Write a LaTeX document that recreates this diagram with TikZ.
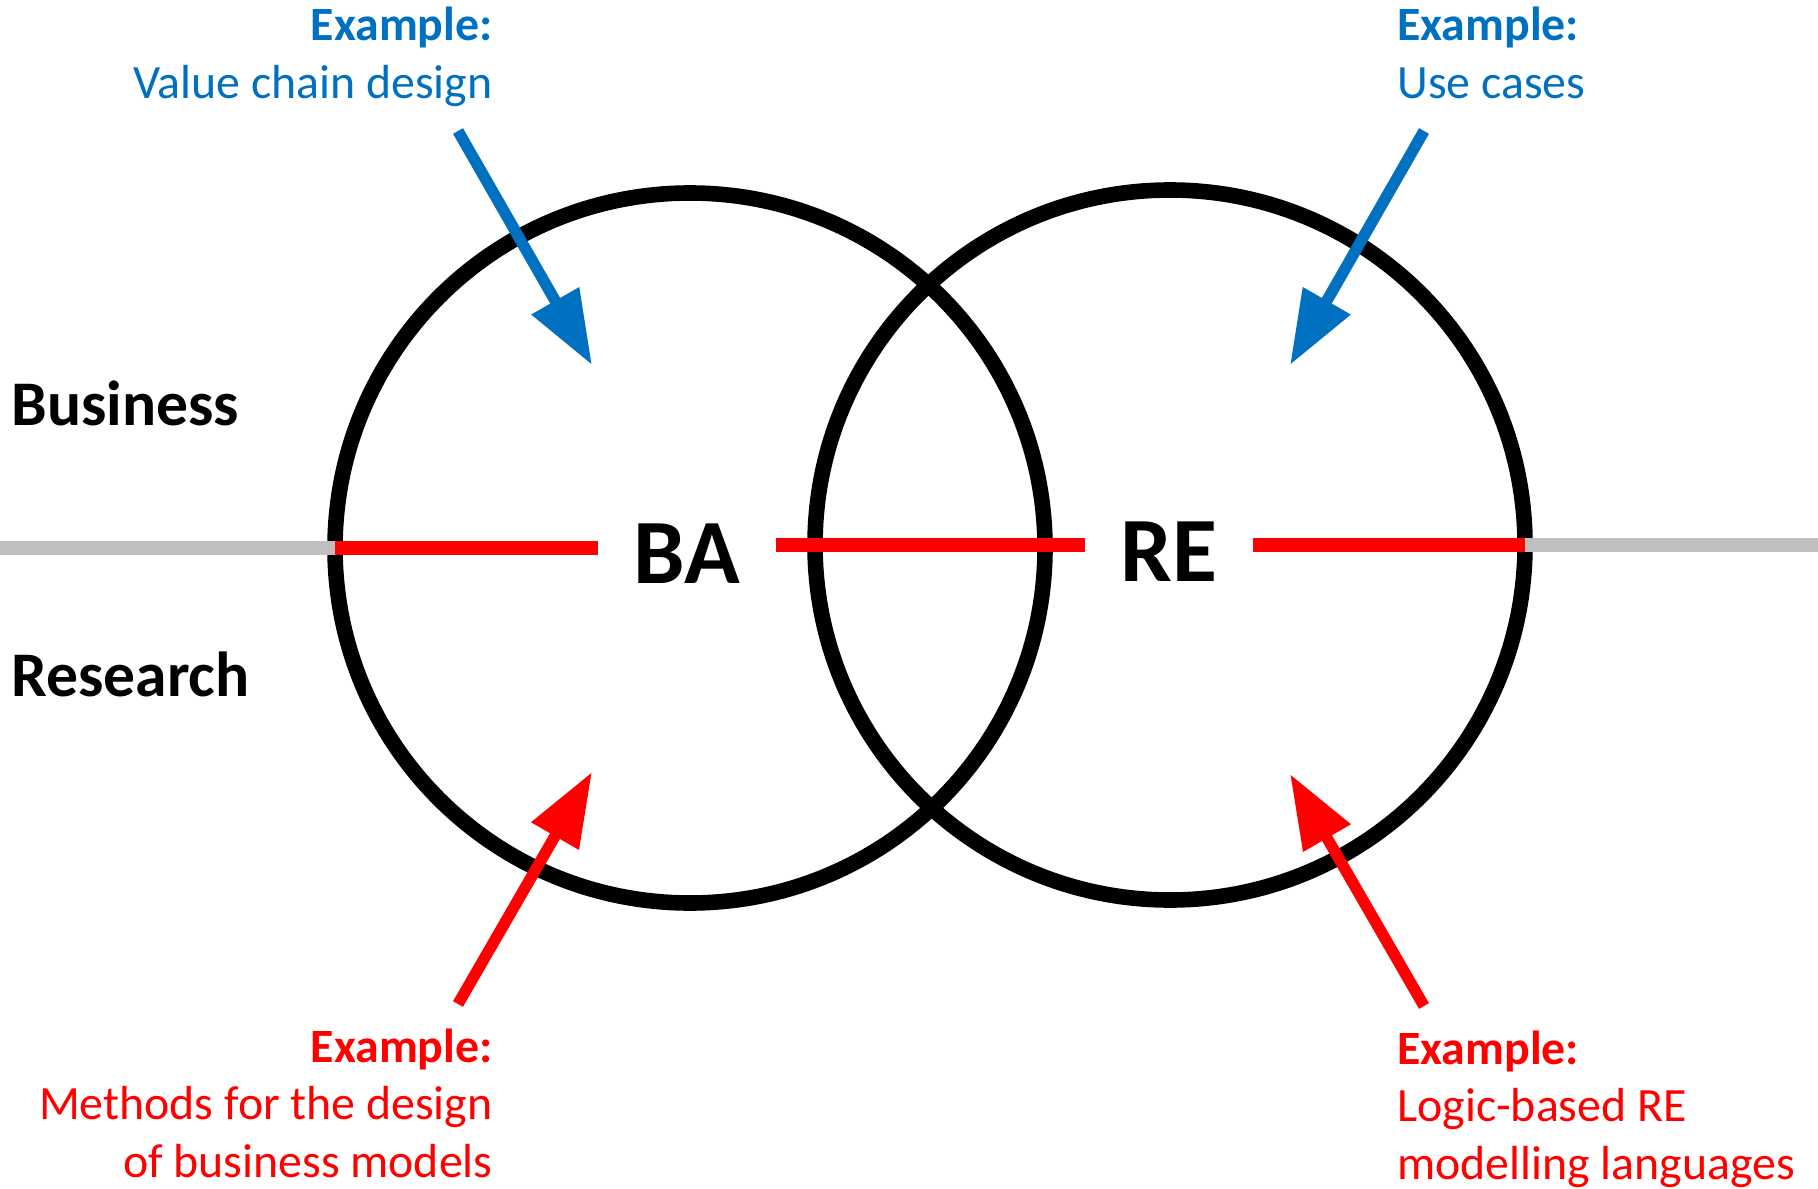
\documentclass[tikz,border=0pt]{standalone}
\usepackage{fontspec}
\setmainfont{Carlito}
\usepackage{tikz}
\usetikzlibrary{arrows.meta,positioning}
\definecolor{exblue}{HTML}{0070C0}
\definecolor{exred}{HTML}{FF0000}
\definecolor{splitgray}{HTML}{BFBFBF}
\tikzset{
  area/.style={circle, draw=black, line width=7.8pt, minimum size=355pt, inner sep=0pt, outer sep=0pt},
  abbr/.style={font=\fontsize{46}{50}\selectfont\bfseries, inner xsep=17.5pt, inner ysep=0pt},
  side/.style={font=\fontsize{31.8}{38}\selectfont\bfseries, anchor=base west, inner sep=0pt},
  example/.style={font=\fontsize{23.9}{28.6}\selectfont, inner sep=0pt},
  divider/.style={draw=splitgray, line width=7.3pt},
  bridge/.style={draw=exred, line width=7.3pt},
  pointer/.style={-{Triangle[length=37pt, width=26pt]}, line width=5.7pt}
}

\begin{document}
\begin{tikzpicture}[x={(0.5pt,0)}, y={(0,-0.5pt)}]
  \useasboundingbox (0,0) rectangle (1818,1188);

  \node[area] (ba circle) at (690,548) {};
  \node[area] (re circle) at (1170,545) {};

  \node[side] (business) at (11,425) {Business};
  \node[side] (research) at (11,696) {Research};

  \node[abbr, anchor=base] (ba) at (687,583) {BA};
  \node[abbr, anchor=base] (re) at (1169,581) {RE};

  \coordinate (edge west) at (0,548);
  \coordinate (edge east) at (1818,545);
  \draw[divider] (edge west) -- (ba circle.west);
  \draw[divider] (re circle.east) -- (edge east);
  \draw[bridge] (ba circle.west) -- (ba.west |- ba circle.west);
  \draw[bridge] (ba.east |- re circle.east) -- (re.west |- re circle.east);
  \draw[bridge] (re.east |- re circle.east) -- (re circle.east);

  \node[example, text=exblue, align=right, anchor=base east] (value chain) at (493,98) {\textbf{Example:}\\Value chain design};
  \node[example, text=exblue, align=left, anchor=base west] (use cases) at (1397,98) {\textbf{Example:}\\Use cases};
  \node[example, text=exred, align=right, anchor=base east] (methods) at (493,1177) {\textbf{Example:}\\Methods for the design\\of business models};
  \node[example, text=exred, align=left, anchor=base west] (logic) at (1397,1179) {\textbf{Example:}\\Logic-based RE\\modelling languages};

  \coordinate (value chain tail) at (458,131);
  \coordinate (value chain tip) at (592,365);
  \coordinate (use cases tail) at (1424,131);
  \coordinate (use cases tip) at (1290,365);
  \coordinate (methods tail) at (458,1004);
  \coordinate (methods tip) at (592,772);
  \coordinate (logic tail) at (1424,1006);
  \coordinate (logic tip) at (1290,774);

  \draw[pointer, exblue] (value chain tail) -- (value chain tip);
  \draw[pointer, exblue] (use cases tail) -- (use cases tip);
  \draw[pointer, exred] (methods tail) -- (methods tip);
  \draw[pointer, exred] (logic tail) -- (logic tip);
\end{tikzpicture}
\end{document}
